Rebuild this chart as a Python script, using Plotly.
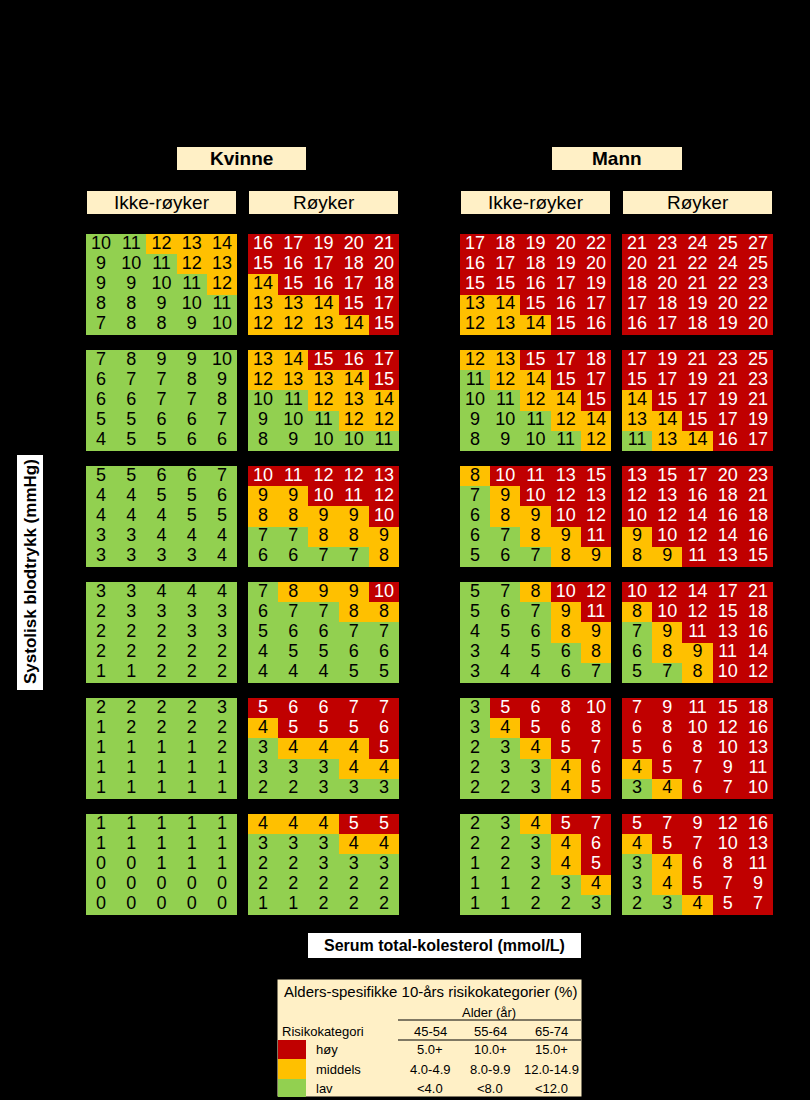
import plotly.graph_objects as go

W, H = 810, 1100

# ---------------- data ----------------
ages = ["70-74", "65-69", "60-64", "55-59", "50-54", "45-49"]
bp_labels = ["180", "160", "140", "120", "100"]
chol_labels = ["4.0", "5.0", "6.0", "7.0", "8.0"]
# thresholds (orange from, red from) per age group
thresholds = [(12, 15), (12, 15), (8, 10), (8, 10), (4, 5), (4, 5)]

kvinne_ikke = [
    [[10, 11, 12, 13, 14], [9, 10, 11, 12, 13], [9, 9, 10, 11, 12], [8, 8, 9, 10, 11], [7, 8, 8, 9, 10]],
    [[7, 8, 9, 9, 10], [6, 7, 7, 8, 9], [6, 6, 7, 7, 8], [5, 5, 6, 6, 7], [4, 5, 5, 6, 6]],
    [[5, 5, 6, 6, 7], [4, 4, 5, 5, 6], [4, 4, 4, 5, 5], [3, 3, 4, 4, 4], [3, 3, 3, 3, 4]],
    [[3, 3, 4, 4, 4], [2, 3, 3, 3, 3], [2, 2, 2, 3, 3], [2, 2, 2, 2, 2], [1, 1, 2, 2, 2]],
    [[2, 2, 2, 2, 3], [1, 2, 2, 2, 2], [1, 1, 1, 1, 2], [1, 1, 1, 1, 1], [1, 1, 1, 1, 1]],
    [[1, 1, 1, 1, 1], [1, 1, 1, 1, 1], [0, 0, 1, 1, 1], [0, 0, 0, 0, 0], [0, 0, 0, 0, 0]],
]
kvinne_royker = [
    [[16, 17, 19, 20, 21], [15, 16, 17, 18, 20], [14, 15, 16, 17, 18], [13, 13, 14, 15, 17], [12, 12, 13, 14, 15]],
    [[13, 14, 15, 16, 17], [12, 13, 13, 14, 15], [10, 11, 12, 13, 14], [9, 10, 11, 12, 12], [8, 9, 10, 10, 11]],
    [[10, 11, 12, 12, 13], [9, 9, 10, 11, 12], [8, 8, 9, 9, 10], [7, 7, 8, 8, 9], [6, 6, 7, 7, 8]],
    [[7, 8, 9, 9, 10], [6, 7, 7, 8, 8], [5, 6, 6, 7, 7], [4, 5, 5, 6, 6], [4, 4, 4, 5, 5]],
    [[5, 6, 6, 7, 7], [4, 5, 5, 5, 6], [3, 4, 4, 4, 5], [3, 3, 3, 4, 4], [2, 2, 3, 3, 3]],
    [[4, 4, 4, 5, 5], [3, 3, 3, 4, 4], [2, 2, 3, 3, 3], [2, 2, 2, 2, 2], [1, 1, 2, 2, 2]],
]
mann_ikke = [
    [[17, 18, 19, 20, 22], [16, 17, 18, 19, 20], [15, 15, 16, 17, 19], [13, 14, 15, 16, 17], [12, 13, 14, 15, 16]],
    [[12, 13, 15, 17, 18], [11, 12, 14, 15, 17], [10, 11, 12, 14, 15], [9, 10, 11, 12, 14], [8, 9, 10, 11, 12]],
    [[8, 10, 11, 13, 15], [7, 9, 10, 12, 13], [6, 8, 9, 10, 12], [6, 7, 8, 9, 11], [5, 6, 7, 8, 9]],
    [[5, 7, 8, 10, 12], [5, 6, 7, 9, 11], [4, 5, 6, 8, 9], [3, 4, 5, 6, 8], [3, 4, 4, 6, 7]],
    [[3, 5, 6, 8, 10], [3, 4, 5, 6, 8], [2, 3, 4, 5, 7], [2, 3, 3, 4, 6], [2, 2, 3, 4, 5]],
    [[2, 3, 4, 5, 7], [2, 2, 3, 4, 6], [1, 2, 3, 4, 5], [1, 1, 2, 3, 4], [1, 1, 2, 2, 3]],
]
mann_royker = [
    [[21, 23, 24, 25, 27], [20, 21, 22, 24, 25], [18, 20, 21, 22, 23], [17, 18, 19, 20, 22], [16, 17, 18, 19, 20]],
    [[17, 19, 21, 23, 25], [15, 17, 19, 21, 23], [14, 15, 17, 19, 21], [13, 14, 15, 17, 19], [11, 13, 14, 16, 17]],
    [[13, 15, 17, 20, 23], [12, 13, 16, 18, 21], [10, 12, 14, 16, 18], [9, 10, 12, 14, 16], [8, 9, 11, 13, 15]],
    [[10, 12, 14, 17, 21], [8, 10, 12, 15, 18], [7, 9, 11, 13, 16], [6, 8, 9, 11, 14], [5, 7, 8, 10, 12]],
    [[7, 9, 11, 15, 18], [6, 8, 10, 12, 16], [5, 6, 8, 10, 13], [4, 5, 7, 9, 11], [3, 4, 6, 7, 10]],
    [[5, 7, 9, 12, 16], [4, 5, 7, 10, 13], [3, 4, 6, 8, 11], [3, 4, 5, 7, 9], [2, 3, 4, 5, 7]],
]
panels = [kvinne_ikke, kvinne_royker, mann_ikke, mann_royker]

legend_ages = ["45-54", "55-64", "65-74"]
legend_cats = ["høy", "middels", "lav"]
legend_vals = [["5.0+", "10.0+", "15.0+"], ["4.0-4.9", "8.0-9.9", "12.0-14.9"], ["<4.0", "<8.0", "<12.0"]]

# ---------------- style ----------------
GREEN, ORANGE, RED = "#92D050", "#FFC000", "#C00000"
CREAM = "#FFF0C6"
FONT = "Liberation Sans, Arial, sans-serif"

panel_x = [(86, 237), (248, 399), (460, 611), (622, 773)]
group_top0, group_step, group_h = 234, 116, 101


def px(x):
    return x / W


def py(y):
    return 1 - y / H


fig = go.Figure()
layout_axes = {}
n = 0
for g, age in enumerate(ages):
    lo, hi = thresholds[g]
    top = group_top0 + g * group_step
    for p, data in enumerate(panels):
        n += 1
        vals = data[g]
        cat = [[0 if v < lo else (1 if v < hi else 2) for v in row] for row in vals]
        xs, ys, ts, cs = [], [], [], []
        for r in range(5):
            for c in range(5):
                xs.append(c)
                ys.append(r)
                ts.append(str(vals[r][c]))
                cs.append("white" if cat[r][c] == 2 else "black")
        xa = "x" if n == 1 else f"x{n}"
        ya = "y" if n == 1 else f"y{n}"
        fig.add_trace(go.Heatmap(
            z=cat, x=list(range(5)), y=list(range(5)), zmin=0, zmax=2,
            colorscale=[[0, GREEN], [0.333, GREEN], [0.334, ORANGE], [0.666, ORANGE], [0.667, RED], [1, RED]],
            showscale=False, hoverinfo="skip", xaxis=xa, yaxis=ya))
        fig.add_trace(go.Scatter(
            x=xs, y=ys, text=ts, mode="text",
            textfont=dict(family=FONT, size=18, color=cs),
            hoverinfo="skip", showlegend=False, xaxis=xa, yaxis=ya))
        x0, x1 = panel_x[p]
        key = "" if n == 1 else str(n)
        layout_axes["xaxis" + key] = dict(
            domain=[px(x0), px(x1)], range=[-0.5, 4.5], anchor=ya,
            showgrid=False, zeroline=False, ticks="",
            showticklabels=(g == len(ages) - 1),
            tickvals=list(range(5)), ticktext=chol_labels,
            tickfont=dict(family=FONT, size=11, color="black"))
        layout_axes["yaxis" + key] = dict(
            domain=[py(top + group_h), py(top)], range=[4.5, -0.5], anchor=xa,
            showgrid=False, zeroline=False, ticks="",
            showticklabels=(p == 0),
            tickvals=list(range(5)), ticktext=bp_labels,
            tickfont=dict(family=FONT, size=11, color="black"))

shapes = []
ann = []


def box(x0, y0, x1, y1, fill, line=None):
    shapes.append(dict(type="rect", xref="paper", yref="paper",
                       x0=px(x0), x1=px(x1), y0=py(y1), y1=py(y0),
                       fillcolor=fill, line=dict(width=1 if line else 0, color=line or fill),
                       layer="below"))


def text(x, y, s, size=14, bold=False, color="black", anchor="center", angle=0):
    ann.append(dict(xref="paper", yref="paper", x=px(x), y=py(y), text=f"<b>{s}</b>" if bold else s,
                    showarrow=False, xanchor=anchor, yanchor="middle", textangle=angle,
                    font=dict(family=FONT, size=size, color=color)))


# Title and description (black on black as in reference)
text(432, 22, "NORRISK 2", size=28, color="black")
text(92, 62, "(10-års risiko for ikke-dødelig eller dødelig hjerteinfarkt eller hjerneslag", size=17, anchor="left")
text(92, 90, "eller død av koronar hjertesykdom, gitt fravær av familiær belastning, lavt", size=17, anchor="left")
text(92, 118, "HDL-kolesterol og medikamentell hypertensjonsbehandling.)", size=17, anchor="left")

# Sex headers
box(177, 147, 306, 170, CREAM)
text(241.5, 158.5, "Kvinne", size=19, bold=True)
box(552, 147, 682, 170, CREAM)
text(617, 158.5, "Mann", size=19, bold=True)

# Smoking headers
for (x0, x1), lab in zip(panel_x, ["Ikke-røyker", "Røyker", "Ikke-røyker", "Røyker"]):
    box(x0 + 1, 191, x1 - 1, 214, CREAM)
    text((x0 + x1) / 2, 202.5, lab, size=19)

# Age labels
text(430, 224, "Alder", size=12, color="black")
for g, age in enumerate(ages):
    text(430, group_top0 + g * group_step + group_h / 2, age, size=12, color="black")

# Axis titles
box(17, 455, 43, 690, "white")
text(30, 572, "Systolisk blodtrykk (mmHg)", size=17, bold=True, angle=-90)
box(308, 933, 581, 958, "white")
text(444.5, 945.5, "Serum total-kolesterol (mmol/L)", size=16, bold=True)

# Legend table
box(277, 979, 582, 1097, CREAM, line="black")
text(430, 991, "Alders-spesifikke 10-års risikokategorier (%)", size=15)
text(489, 1012, "Alder (år)", size=13)
shapes.append(dict(type="line", xref="paper", yref="paper", x0=px(398), x1=px(581),
                   y0=py(1020), y1=py(1020), line=dict(color="black", width=1)))
text(280, 1031, "Risikokategori", size=13, anchor="left")
col_x = [430, 490, 551]
for cx, a in zip(col_x, legend_ages):
    text(cx, 1031, a, size=13)
shapes.append(dict(type="line", xref="paper", yref="paper", x0=px(398), x1=px(581),
                   y0=py(1040), y1=py(1040), line=dict(color="black", width=1)))
row_y = [(1040, 1059), (1059, 1079), (1079, 1097)]
for (y0, y1), col, lab, vals in zip(row_y, [RED, ORANGE, GREEN], legend_cats, legend_vals):
    shapes.append(dict(type="rect", xref="paper", yref="paper", x0=px(278), x1=px(306),
                       y0=py(y1), y1=py(y0), fillcolor=col, line=dict(width=0)))
    text(314, (y0 + y1) / 2, lab, size=13, anchor="left")
    for cx, v in zip(col_x, vals):
        text(cx, (y0 + y1) / 2, v, size=13)

fig.update_layout(
    width=W, height=H, margin=dict(l=0, r=0, t=0, b=0),
    paper_bgcolor="black", plot_bgcolor="black",
    showlegend=False, shapes=shapes, annotations=ann, **layout_axes)

fig.write_html("out.html", config={"displayModeBar": False},
               post_script="document.body.style.margin='0';document.body.style.background='black';")
